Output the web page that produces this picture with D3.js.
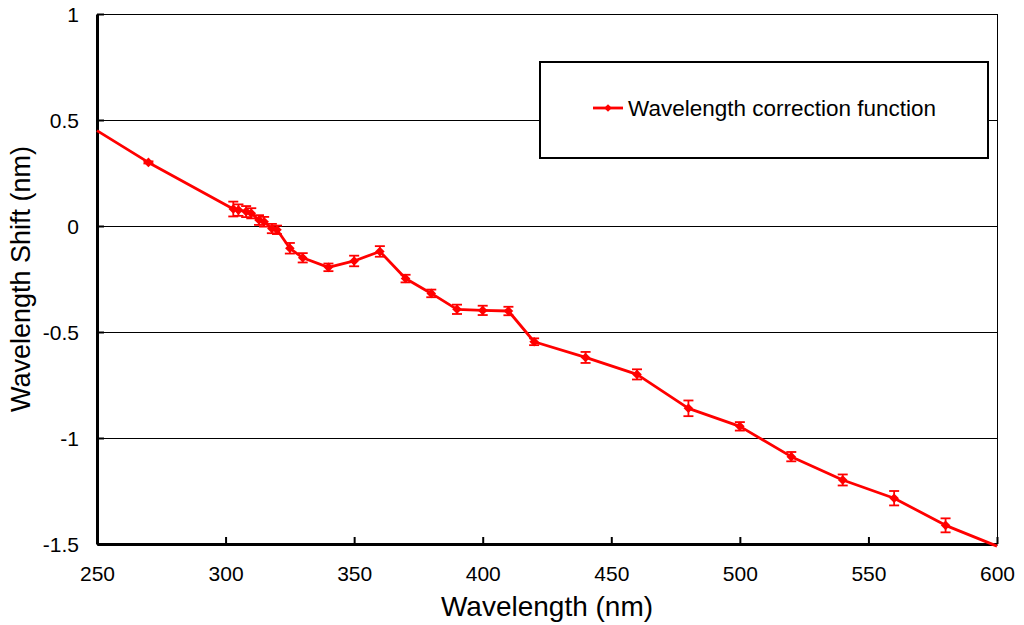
<!DOCTYPE html>
<html>
<head>
<meta charset="utf-8">
<script src="https://cdn.jsdelivr.net/npm/d3@7"></script>
<style>
  body { margin: 0; background: #fff; }
  svg { display: block; font-family: 'Liberation Sans', Arial, sans-serif; }
</style>
</head>
<body>
<div id="chart"></div>
<script>
// measured points (nm, shift in nm, error half-width)
const wavelengths = [270, 303, 305, 308, 310, 313, 315, 318, 320, 325, 330, 340, 350, 360, 370, 380, 390, 400, 410, 420, 440, 460, 480, 500, 520, 540, 560, 580]
const shifts = [0.30, 0.08, 0.075, 0.068, 0.06, 0.028, 0.02, -0.012, -0.018, -0.105, -0.15, -0.195, -0.165, -0.12, -0.248, -0.318, -0.393, -0.398, -0.401, -0.546, -0.62, -0.70, -0.86, -0.945, -1.088, -1.198, -1.284, -1.412]
const errors = [0.005, 0.035, 0.027, 0.026, 0.024, 0.023, 0.023, 0.022, 0.02, 0.025, 0.022, 0.018, 0.025, 0.025, 0.018, 0.018, 0.022, 0.022, 0.02, 0.016, 0.026, 0.024, 0.037, 0.02, 0.022, 0.026, 0.034, 0.033]
// the line runs on to the axis ends without markers
const endWl = [250, 600]
const endShift = [0.45, -1.51]

const xTicks = [250, 300, 350, 400, 450, 500, 550, 600]
const yTicks = [-1.5, -1, -0.5, 0, 0.5, 1]
const legendLabel = 'Wavelength correction function'

const width = 1024
const height = 625
const margin = { top: 14, right: 27, bottom: 81, left: 97 }
const red = '#ff0000'

const svg = d3.select('#chart').append('svg')
  .attr('width', width)
  .attr('height', height)

const x = d3.scaleLinear().domain([250, 600]).range([margin.left, width - margin.right])
const y = d3.scaleLinear().domain([-1.5, 1]).range([height - margin.bottom, margin.top])

// gridlines
svg.append('g')
  .selectAll('line')
  .data(yTicks.filter(v => v > -1.5))
  .join('line')
  .attr('x1', x(250)).attr('x2', x(600))
  .attr('y1', d => y(d) + 0.5).attr('y2', d => y(d) + 0.5)
  .attr('stroke', '#000').attr('stroke-width', 1)

// right border
svg.append('line')
  .attr('x1', x(600) + 0.5).attr('x2', x(600) + 0.5)
  .attr('y1', y(1)).attr('y2', y(-1.5))
  .attr('stroke', '#000').attr('stroke-width', 1)

// axes (ticks point inward)
const xAxis = svg.append('g')
  .attr('transform', `translate(0,${y(-1.5)})`)
  .call(d3.axisBottom(x).tickValues(xTicks).tickSizeInner(-7).tickSizeOuter(0).tickPadding(22))
const yAxis = svg.append('g')
  .attr('transform', `translate(${x(250)},0)`)
  .call(d3.axisLeft(y).tickValues(yTicks).tickFormat(d => String(d)).tickSizeInner(-7).tickSizeOuter(0).tickPadding(18))

;[xAxis, yAxis].forEach(a => {
  a.select('.domain').attr('stroke', '#000').attr('stroke-width', 3)
  a.selectAll('.tick line').attr('stroke', '#000').attr('stroke-width', 2)
  a.selectAll('.tick text').attr('font-size', 21).attr('fill', '#000')
    .attr('font-family', "'Liberation Sans', Arial, sans-serif")
})
xAxis.selectAll('.tick text').attr('dy', '0.71em')
yAxis.selectAll('.tick text').attr('dy', '0.35em')

// series
const pts = wavelengths.map((w, i) => ({ w, v: shifts[i], e: errors[i] }))
const linePts = [{ w: endWl[0], v: endShift[0] }, ...pts, { w: endWl[1], v: endShift[1] }]

svg.append('path')
  .datum(linePts)
  .attr('fill', 'none')
  .attr('stroke', red)
  .attr('stroke-width', 2.8)
  .attr('stroke-linejoin', 'round')
  .attr('d', d3.line().x(d => x(d.w)).y(d => y(d.v)))

const eb = svg.append('g').attr('stroke', red).attr('stroke-width', 1.8)
eb.selectAll('line.v').data(pts).join('line').attr('class', 'v')
  .attr('x1', d => x(d.w)).attr('x2', d => x(d.w))
  .attr('y1', d => y(d.v - d.e)).attr('y2', d => y(d.v + d.e))
eb.selectAll('line.t').data(pts).join('line').attr('class', 't')
  .attr('x1', d => x(d.w) - 5).attr('x2', d => x(d.w) + 5)
  .attr('y1', d => y(d.v + d.e)).attr('y2', d => y(d.v + d.e))
eb.selectAll('line.b').data(pts).join('line').attr('class', 'b')
  .attr('x1', d => x(d.w) - 5).attr('x2', d => x(d.w) + 5)
  .attr('y1', d => y(d.v - d.e)).attr('y2', d => y(d.v - d.e))

const diamond = d3.symbol(d3.symbolSquare, 46)
svg.append('g')
  .selectAll('path')
  .data(pts)
  .join('path')
  .attr('d', diamond)
  .attr('fill', red)
  .attr('transform', d => `translate(${x(d.w)},${y(d.v)}) rotate(45)`)

// axis titles
svg.append('text')
  .attr('x', (x(250) + x(600)) / 2)
  .attr('y', 616)
  .attr('text-anchor', 'middle')
  .attr('font-size', 28)
  .text('Wavelength (nm)')

svg.append('text')
  .attr('transform', `translate(30,${(y(1) + y(-1.5)) / 2}) rotate(-90)`)
  .attr('text-anchor', 'middle')
  .attr('font-size', 27)
  .text('Wavelength Shift (nm)')

// legend
const lg = svg.append('g')
lg.append('rect')
  .attr('x', 540).attr('y', 62).attr('width', 448).attr('height', 96)
  .attr('fill', '#fff').attr('stroke', '#000').attr('stroke-width', 2)
lg.append('line')
  .attr('x1', 593).attr('x2', 623).attr('y1', 108).attr('y2', 108)
  .attr('stroke', red).attr('stroke-width', 2.8)
lg.append('path')
  .attr('d', d3.symbol(d3.symbolSquare, 30))
  .attr('fill', red)
  .attr('transform', 'translate(608,108) rotate(45)')
lg.append('text')
  .attr('x', 628).attr('y', 116)
  .attr('font-size', 22.5)
  .text(legendLabel)
</script>
</body>
</html>
